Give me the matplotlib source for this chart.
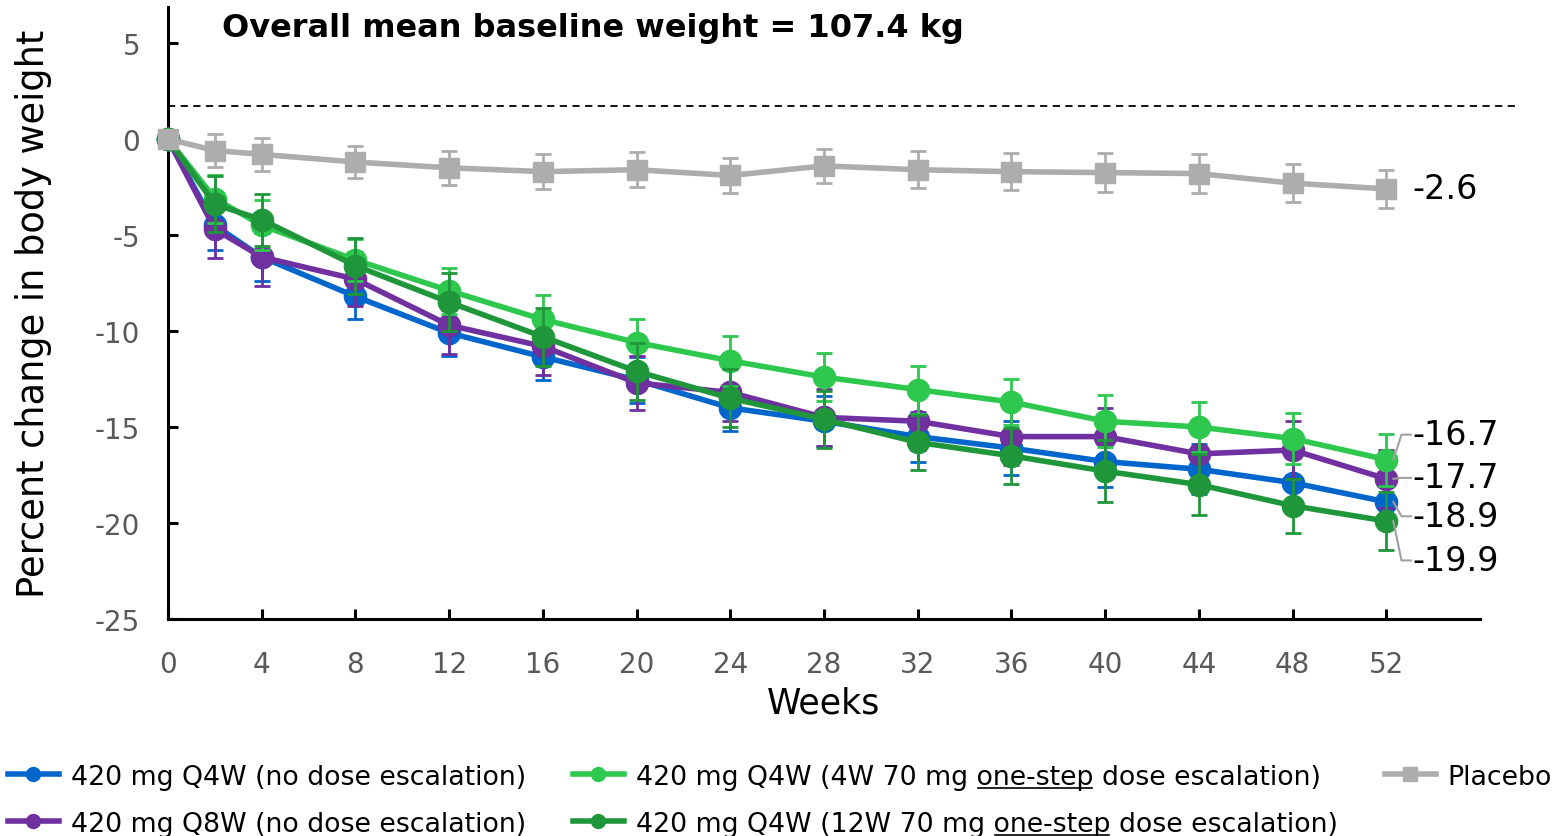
import matplotlib
matplotlib.use("Agg")
import matplotlib.pyplot as plt
from matplotlib.lines import Line2D

weeks = [0, 2, 4, 8, 12, 16, 20, 24, 28, 32, 36, 40, 44, 48, 52]

q4w_no_esc = [0, -4.5, -6.15, -8.2, -10.1, -11.35, -12.55, -14.0, -14.7, -15.5, -16.1, -16.8, -17.2, -17.9, -18.9]
q8w_no_esc = [0, -4.7, -6.15, -7.3, -9.7, -10.8, -12.7, -13.2, -14.5, -14.7, -15.5, -15.5, -16.4, -16.2, -17.7]
q4w_4w_esc = [0, -3.1, -4.5, -6.3, -7.9, -9.4, -10.6, -11.55, -12.4, -13.05, -13.7, -14.7, -15.0, -15.6, -16.7]
q4w_12w_esc = [0, -3.4, -4.2, -6.6, -8.5, -10.3, -12.1, -13.5, -14.6, -15.8, -16.5, -17.3, -18.0, -19.1, -19.9]
placebo = [0, -0.6, -0.8, -1.2, -1.5, -1.7, -1.6, -1.9, -1.4, -1.6, -1.7, -1.75, -1.8, -2.3, -2.6]

q4w_no_err = [0, 1.3, 1.25, 1.15, 1.2, 1.2, 1.2, 1.2, 1.3, 1.3, 1.4, 1.3, 1.3, 1.3, 1.3]
q8w_no_err = [0, 1.5, 1.5, 1.4, 1.5, 1.5, 1.4, 1.5, 1.5, 1.5, 1.5, 1.5, 1.5, 1.5, 1.5]
q4w_4w_err = [0, 1.25, 1.3, 1.1, 1.2, 1.25, 1.2, 1.3, 1.25, 1.25, 1.2, 1.35, 1.3, 1.35, 1.35]
q4w_12w_err = [0, 1.45, 1.35, 1.45, 1.5, 1.5, 1.5, 1.5, 1.5, 1.45, 1.45, 1.6, 1.6, 1.4, 1.5]
placebo_err = [0, 0.85, 0.85, 0.85, 0.9, 0.9, 0.9, 0.9, 0.9, 0.95, 0.95, 1.0, 1.0, 1.0, 1.0]

labels = ["420 mg Q4W (no dose escalation)",
          "420 mg Q8W (no dose escalation)",
          "420 mg Q4W (4W 70 mg one-step dose escalation)",
          "420 mg Q4W (12W 70 mg one-step dose escalation)",
          "Placebo"]

# end-of-study labels and where they sit (y in data units)
end_labels = ["-16.7", "-17.7", "-18.9", "-19.9"]
end_label_y = [-15.4, -17.65, -19.65, -21.95]

BLUE = "#0066cc"
PURPLE = "#7030a0"
LGREEN = "#2dc84d"
DGREEN = "#20963a"
GREY = "#adadad"

plt.rcParams["font.family"] = ["DejaVu Sans"]
plt.rcParams["axes.unicode_minus"] = False

fig = plt.figure(figsize=(15.57, 8.37), dpi=100)
ax = fig.add_axes([168 / 1557, 1 - 620 / 837, (1480 - 168) / 1557, (620 - 8) / 837])

series = [
    (q4w_no_esc, q4w_no_err, BLUE, "o"),
    (q8w_no_esc, q8w_no_err, PURPLE, "o"),
    (q4w_4w_esc, q4w_4w_err, LGREEN, "o"),
    (q4w_12w_esc, q4w_12w_err, DGREEN, "o"),
    (placebo, placebo_err, GREY, "s"),
]

handles = []
for i, (vals, err, col, mk) in enumerate(series):
    ax.errorbar(weeks, vals, yerr=err, color=col, lw=4, marker=mk,
                ms=16 if mk == "o" else 15, capsize=6, capthick=2,
                elinewidth=2, zorder=3 + i, clip_on=False)
    handles.append(Line2D([], [], color=col, lw=4, marker=mk, ms=10))

ax.axhline(1.72, xmax=1.03, color="black", lw=1.3, ls=(0, (4, 3)), clip_on=False)

ax.set_xlim(0, 56)
ax.set_ylim(-25, 6.875)
ax.set_xticks(weeks[:1] + weeks[2:])
ax.set_yticks([5, 0, -5, -10, -15, -20, -25])
for s in ["top", "right"]:
    ax.spines[s].set_visible(False)
for s in ["left", "bottom"]:
    ax.spines[s].set_linewidth(2.2)
ax.tick_params(direction="in", length=7, width=2.2, labelsize=20,
               labelcolor="#595959")
ax.tick_params(axis="x", pad=22)
ax.tick_params(axis="y", pad=20)

ax.set_xlabel("Weeks", fontsize=25, labelpad=6)
ax.set_ylabel("Percent change in body weight", fontsize=26.5, labelpad=31)

fig.text(222 / 1557, 1 - 28 / 837, "Overall mean baseline weight = 107.4 kg",
         fontsize=23, fontweight="bold", va="center", ha="left")

# end labels
ax.text(53.1, placebo[-1], "-2.6", fontsize=24, va="center", ha="left")
ends = [q4w_4w_esc[-1], q8w_no_esc[-1], q4w_no_esc[-1], q4w_12w_esc[-1]]
for txt, ly, py in zip(end_labels, end_label_y, ends):
    ax.plot([52.3, 52.65, 53.05], [py, ly, ly], color="#a0a0a0", lw=1.5,
            clip_on=False, zorder=10)
    ax.text(53.1, ly, txt, fontsize=24, va="center", ha="left")

leg = fig.legend(handles, labels, ncol=3, loc="upper left",
                 bbox_to_anchor=(5 / 1557, 1 - 762 / 837), frameon=False,
                 fontsize=19.3, handlelength=1.9, handletextpad=0.45,
                 columnspacing=1.75, labelspacing=0.78, borderaxespad=0,
                 borderpad=0.1)

# underline "one-step" in the legend entries
fig.canvas.draw()
r = fig.canvas.get_renderer()
for t in leg.get_texts():
    s = t.get_text()
    if "one-step" not in s:
        continue
    bb = t.get_window_extent(r)
    pre = s[:s.index("one-step")]
    tmp = fig.text(0, 0, pre, fontproperties=t.get_fontproperties())
    w0 = tmp.get_window_extent(r).width
    tmp.set_text(pre + "one-step")
    w1 = tmp.get_window_extent(r).width
    tmp.remove()
    y = bb.y0 + 2
    fig.add_artist(Line2D([(bb.x0 + w0 + 2) / fig.bbox.width, (bb.x0 + w1 - 1) / fig.bbox.width],
                          [y / fig.bbox.height, y / fig.bbox.height],
                          color="black", lw=1.2))

fig.savefig("out.png", dpi=100)
